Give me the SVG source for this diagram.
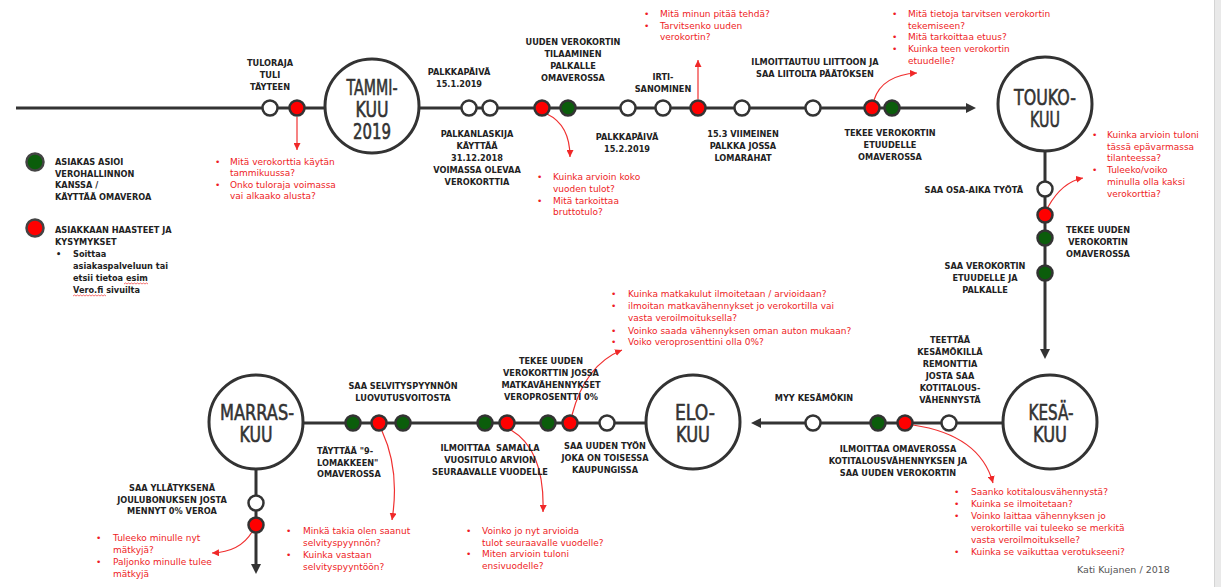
<svg xmlns="http://www.w3.org/2000/svg" width="1221" height="587" viewBox="0 0 1221 587">
<defs>
<marker id="ar" viewBox="0 0 10 10" refX="10" refY="5" markerUnits="userSpaceOnUse" markerWidth="7" markerHeight="7" orient="auto">
<path d="M0,0 L10,5 L0,10 z" fill="#f02828"/>
</marker>
</defs>
<style>
.ln{stroke:#333;stroke-width:3;fill:none}
.big{fill:#fff;stroke:#333;stroke-width:3}
.n{stroke:#333;stroke-width:2.5}
.w{fill:#fff}
.g{fill:#0b5d0b}
.r{fill:#ff0000}
.ah{fill:#333}
.lbl{font-family:"DejaVu Sans",sans-serif;font-weight:bold;font-size:8.2px;fill:#222;text-anchor:middle}
.lg{font-family:"DejaVu Sans",sans-serif;font-weight:bold;font-size:8.2px;fill:#222}
.q{font-family:"DejaVu Sans",sans-serif;font-size:9px;fill:#ee1c25}
.mo{font-family:"DejaVu Sans",sans-serif;font-size:21px;fill:#333;stroke:#333;stroke-width:0.6;text-anchor:middle}
.ra{stroke:#f03030;stroke-width:1.2;fill:none;marker-end:url(#ar)}
.sq{stroke:#e33;stroke-width:0.7;fill:none}
</style>
<rect width="1221" height="587" fill="#fff"/>
<rect x="1214" y="0" width="7" height="587" fill="#e9e9e9"/>
<line x1="1214.5" y1="0" x2="1214.5" y2="587" stroke="#d4d4d4"/>

<g id="connectors">
<line class="ln" x1="16" y1="108" x2="326" y2="108"/>
<line class="ln" x1="419" y1="108" x2="968" y2="108"/>
<polygon class="ah" points="976,108 966,103 966,113"/>
<line class="ln" x1="1045" y1="151" x2="1045" y2="350"/>
<polygon class="ah" points="1045,359 1040,349 1050,349"/>
<line class="ln" x1="1004" y1="423" x2="760" y2="423"/>
<polygon class="ah" points="751,423 761,418 761,428"/>
<line class="ln" x1="302" y1="423" x2="646" y2="423"/>
<line class="ln" x1="256" y1="469" x2="256" y2="565"/>
<polygon class="ah" points="256,574 251,564 261,564"/>
<path class="ra" d="M297,117 L297,150"/>
<path class="ra" d="M547,114 Q570,125 570,157"/>
<path class="ra" d="M698,99 L698,60"/>
<path class="ra" d="M874,100 Q882,75 917,73"/>
<path class="ra" d="M1048,207 Q1062,182 1083,178"/>
<path class="ra" d="M913,425 Q980,435 993,483"/>
<path class="ra" d="M572,415 Q585,365 622,350"/>
<path class="ra" d="M511,430 Q545,450 543,512"/>
<path class="ra" d="M382,431 Q400,470 392,520"/>
<path class="ra" d="M252,532 Q240,552 212,553"/>
</g>

<g id="month-tammikuu">
<circle class="big" cx="372" cy="106" r="47"/>
<text class="mo"><tspan x="372" y="95" textLength="51" lengthAdjust="spacingAndGlyphs">TAMMI-</tspan><tspan x="372" y="117" textLength="33" lengthAdjust="spacingAndGlyphs">KUU</tspan><tspan x="372" y="139" textLength="38" lengthAdjust="spacingAndGlyphs">2019</tspan></text>
</g>
<g id="month-toukokuu">
<circle class="big" cx="1045" cy="104" r="47"/>
<text class="mo"><tspan x="1045" y="105" textLength="62" lengthAdjust="spacingAndGlyphs">TOUKO-</tspan><tspan x="1045" y="127" textLength="30" lengthAdjust="spacingAndGlyphs">KUU</tspan></text>
</g>
<g id="month-kesakuu">
<circle class="big" cx="1050" cy="422" r="47"/>
<text class="mo"><tspan x="1051" y="420" textLength="45" lengthAdjust="spacingAndGlyphs">KESÄ-</tspan><tspan x="1050" y="442" textLength="34" lengthAdjust="spacingAndGlyphs">KUU</tspan></text>
</g>
<g id="month-elokuu">
<circle class="big" cx="693" cy="422" r="47"/>
<text class="mo"><tspan x="695" y="420" textLength="40" lengthAdjust="spacingAndGlyphs">ELO-</tspan><tspan x="693" y="442" textLength="34" lengthAdjust="spacingAndGlyphs">KUU</tspan></text>
</g>
<g id="month-marraskuu">
<circle class="big" cx="256" cy="422" r="47"/>
<text class="mo"><tspan x="257" y="420" textLength="74" lengthAdjust="spacingAndGlyphs">MARRAS-</tspan><tspan x="256" y="442" textLength="33" lengthAdjust="spacingAndGlyphs">KUU</tspan></text>
</g>

<g id="ev-tuloraja">
<circle class="n w" cx="270" cy="108" r="7.5"/>
<text class="lbl"><tspan x="270" y="66">TULORAJA</tspan><tspan x="270" y="78">TULI</tspan><tspan x="270" y="90">TÄYTEEN</tspan></text>
</g>
<g id="q-tammikuu">
<circle class="n r" cx="297" cy="108" r="7.5"/>
<text class="q"><tspan x="215" y="165">•</tspan><tspan x="230" y="165">Mitä verokorttia käytän</tspan><tspan x="230" y="176">tammikuussa?</tspan><tspan x="215" y="188">•</tspan><tspan x="230" y="188">Onko tuloraja voimassa</tspan><tspan x="230" y="199">vai alkaako alusta?</tspan></text>
</g>
<g id="ev-palkkapaiva1">
<circle class="n w" cx="469" cy="108" r="7.5"/>
<text class="lbl"><tspan x="459" y="75">PALKKAPÄIVÄ</tspan><tspan x="459" y="87">15.1.2019</tspan></text>
</g>
<g id="ev-palkanlaskija">
<circle class="n w" cx="490" cy="108" r="7.5"/>
<text class="lbl"><tspan x="477" y="137">PALKANLASKIJA</tspan><tspan x="477" y="149">KÄYTTÄÄ</tspan><tspan x="477" y="161">31.12.2018</tspan><tspan x="477" y="173">VOIMASSA OLEVAA</tspan><tspan x="477" y="185">VEROKORTTIA</tspan></text>
</g>
<g id="ev-tilaaminen">
<circle class="n r" cx="542" cy="108" r="7.5"/>
<circle class="n g" cx="568" cy="108" r="7.5"/>
<text class="lbl"><tspan x="573" y="45">UUDEN VEROKORTIN</tspan><tspan x="573" y="57">TILAAMINEN</tspan><tspan x="573" y="69">PALKALLE</tspan><tspan x="573" y="81">OMAVEROSSA</tspan></text>
<text class="q"><tspan x="537" y="180">•</tspan><tspan x="553" y="180">Kuinka arvioin koko</tspan><tspan x="553" y="192">vuoden tulot?</tspan><tspan x="537" y="204">•</tspan><tspan x="553" y="204">Mitä tarkoittaa</tspan><tspan x="553" y="215">bruttotulo?</tspan></text>
</g>
<g id="ev-palkkapaiva2">
<circle class="n w" cx="628" cy="108" r="7.5"/>
<text class="lbl"><tspan x="627" y="140">PALKKAPÄIVÄ</tspan><tspan x="627" y="152">15.2.2019</tspan></text>
</g>
<g id="ev-irtisanominen">
<circle class="n w" cx="663" cy="108" r="7.5"/>
<text class="lbl"><tspan x="663" y="80">IRTI-</tspan><tspan x="663" y="92">SANOMINEN</tspan></text>
</g>
<g id="q-irtisanominen">
<circle class="n r" cx="698" cy="108" r="7.5"/>
<text class="q"><tspan x="644" y="17">•</tspan><tspan x="660" y="17">Mitä minun pitää tehdä?</tspan><tspan x="644" y="29">•</tspan><tspan x="660" y="29">Tarvitsenko uuden</tspan><tspan x="660" y="40">verokortin?</tspan></text>
</g>
<g id="ev-viimeinen-palkka">
<circle class="n w" cx="742" cy="108" r="7.5"/>
<text class="lbl"><tspan x="743" y="137">15.3 VIIMEINEN</tspan><tspan x="743" y="149">PALKKA JOSSA</tspan><tspan x="743" y="161">LOMARAHAT</tspan></text>
</g>
<g id="ev-liitto">
<circle class="n w" cx="813" cy="108" r="7.5"/>
<text class="lbl"><tspan x="815" y="65">ILMOITTAUTUU LIITTOON JA</tspan><tspan x="815" y="77">SAA LIITOLTA PÄÄTÖKSEN</tspan></text>
</g>
<g id="ev-etuus">
<circle class="n r" cx="872" cy="108" r="7.5"/>
<circle class="n g" cx="892" cy="108" r="7.5"/>
<text class="lbl"><tspan x="890" y="136">TEKEE VEROKORTIN</tspan><tspan x="890" y="148">ETUUDELLE</tspan><tspan x="890" y="160">OMAVEROSSA</tspan></text>
<text class="q"><tspan x="892" y="17">•</tspan><tspan x="908" y="17">Mitä tietoja tarvitsen verokortin</tspan><tspan x="908" y="28.5">tekemiseen?</tspan><tspan x="892" y="40">•</tspan><tspan x="908" y="40">Mitä tarkoittaa etuus?</tspan><tspan x="892" y="52">•</tspan><tspan x="908" y="52">Kuinka teen verokortin</tspan><tspan x="908" y="63.5">etuudelle?</tspan></text>
</g>
<g id="ev-osa-aika">
<circle class="n w" cx="1045" cy="189" r="7.5"/>
<text class="lbl" style="text-anchor:end"><tspan x="1023" y="193">SAA OSA-AIKA TYÖTÄ</tspan></text>
</g>
<g id="q-osa-aika">
<circle class="n r" cx="1045" cy="215" r="7.5"/>
<text class="q"><tspan x="1092" y="138">•</tspan><tspan x="1107" y="138">Kuinka arvioin tuloni</tspan><tspan x="1107" y="150">tässä epävarmassa</tspan><tspan x="1107" y="161">tilanteessa?</tspan><tspan x="1092" y="173">•</tspan><tspan x="1107" y="173">Tuleeko/voiko</tspan><tspan x="1107" y="185">minulla olla kaksi</tspan><tspan x="1107" y="197">verokorttia?</tspan></text>
</g>
<g id="ev-uusi-verokortti">
<circle class="n g" cx="1045" cy="238" r="7.5"/>
<text class="lbl"><tspan x="1098" y="233">TEKEE UUDEN</tspan><tspan x="1098" y="245">VEROKORTIN</tspan><tspan x="1098" y="257">OMAVEROSSA</tspan></text>
</g>
<g id="ev-saa-verokortin">
<circle class="n g" cx="1045" cy="273" r="7.5"/>
<text class="lbl"><tspan x="985" y="269">SAA VEROKORTIN</tspan><tspan x="985" y="281">ETUUDELLE JA</tspan><tspan x="985" y="293">PALKALLE</tspan></text>
</g>
<g id="ev-remontti">
<circle class="n w" cx="949" cy="423" r="7.5"/>
<text class="lbl"><tspan x="950" y="343">TEETTÄÄ</tspan><tspan x="950" y="355">KESÄMÖKILLÄ</tspan><tspan x="950" y="367">REMONTTIA</tspan><tspan x="950" y="379">JOSTA SAA</tspan><tspan x="950" y="391">KOTITALOUS-</tspan><tspan x="950" y="403">VÄHENNYSTÄ</tspan></text>
</g>
<g id="ev-kotitalous">
<circle class="n g" cx="878" cy="423" r="7.5"/>
<circle class="n r" cx="905" cy="423" r="7.5"/>
<text class="lbl"><tspan x="898" y="452">ILMOITTAA OMAVEROSSA</tspan><tspan x="898" y="464">KOTITALOUSVÄHENNYKSEN JA</tspan><tspan x="898" y="476">SAA UUDEN VEROKORTIN</tspan></text>
<text class="q"><tspan x="954" y="495">•</tspan><tspan x="971" y="495">Saanko kotitalousvähennystä?</tspan><tspan x="954" y="507">•</tspan><tspan x="971" y="507">Kuinka se ilmoitetaan?</tspan><tspan x="954" y="519">•</tspan><tspan x="971" y="519">Voinko laittaa vähennyksen jo</tspan><tspan x="971" y="531">verokortille vai tuleeko se merkitä</tspan><tspan x="971" y="543">vasta veroilmoitukselle?</tspan><tspan x="954" y="555">•</tspan><tspan x="971" y="555">Kuinka se vaikuttaa verotukseeni?</tspan></text>
</g>
<g id="ev-myy-kesamokin">
<circle class="n w" cx="813" cy="423" r="7.5"/>
<text class="lbl"><tspan x="814" y="401">MYY KESÄMÖKIN</tspan></text>
</g>
<g id="ev-uusi-tyo">
<circle class="n w" cx="607" cy="423" r="7.5"/>
<text class="lbl"><tspan x="605" y="449">SAA UUDEN TYÖN</tspan><tspan x="605" y="461">JOKA ON TOISESSA</tspan><tspan x="605" y="473">KAUPUNGISSA</tspan></text>
</g>
<g id="ev-matkavahennys">
<circle class="n g" cx="548" cy="423" r="7.5"/>
<circle class="n r" cx="570" cy="423" r="7.5"/>
<text class="lbl"><tspan x="551" y="364">TEKEE UUDEN</tspan><tspan x="551" y="376">VEROKORTTIN JOSSA</tspan><tspan x="551" y="388">MATKAVÄHENNYKSET</tspan><tspan x="551" y="400">VEROPROSENTTI 0%</tspan></text>
<text class="q"><tspan x="611" y="297">•</tspan><tspan x="628" y="297">Kuinka matkakulut ilmoitetaan / arvioidaan?</tspan><tspan x="611" y="309">•</tspan><tspan x="628" y="309">ilmoitan matkavähennykset jo verokortilla vai</tspan><tspan x="628" y="321">vasta veroilmoituksella?</tspan><tspan x="611" y="334">•</tspan><tspan x="628" y="334">Voinko saada vähennyksen oman auton mukaan?</tspan><tspan x="611" y="345">•</tspan><tspan x="628" y="345">Voiko veroprosenttini olla 0%?</tspan></text>
</g>
<g id="ev-vuositulo">
<circle class="n g" cx="485" cy="423" r="7.5"/>
<circle class="n r" cx="507" cy="423" r="7.5"/>
<text class="lbl"><tspan x="490" y="451">ILMOITTAA&#160; SAMALLA</tspan><tspan x="490" y="463">VUOSITULO ARVION</tspan><tspan x="490" y="475">SEURAAVALLE VUODELLE</tspan></text>
<text class="q"><tspan x="466" y="534">•</tspan><tspan x="482" y="534">Voinko jo nyt arvioida</tspan><tspan x="482" y="546">tulot seuraavalle vuodelle?</tspan><tspan x="466" y="557">•</tspan><tspan x="482" y="557">Miten arvioin tuloni</tspan><tspan x="482" y="569">ensivuodelle?</tspan></text>
</g>
<g id="ev-selvityspyynto">
<circle class="n g" cx="353" cy="423" r="7.5"/>
<circle class="n r" cx="379" cy="423" r="7.5"/>
<circle class="n g" cx="403" cy="423" r="7.5"/>
<text class="lbl"><tspan x="403" y="389">SAA SELVITYSPYYNNÖN</tspan><tspan x="403" y="401">LUOVUTUSVOITOSTA</tspan></text>
<text class="lbl" style="text-anchor:start"><tspan x="317" y="454">TÄYTTÄÄ "9-</tspan><tspan x="317" y="466">LOMAKKEEN"</tspan><tspan x="317" y="477">OMAVEROSSA</tspan></text>
<text class="q"><tspan x="286" y="534">•</tspan><tspan x="303" y="534">Minkä takia olen saanut</tspan><tspan x="303" y="546">selvityspyynnön?</tspan><tspan x="286" y="558">•</tspan><tspan x="303" y="558">Kuinka vastaan</tspan><tspan x="303" y="570">selvityspyyntöön?</tspan></text>
</g>
<g id="ev-joulubonus">
<circle class="n w" cx="256" cy="503" r="7.5"/>
<circle class="n r" cx="256" cy="525" r="7.5"/>
<text class="lbl"><tspan x="172" y="491">SAA YLLÄTYKSENÄ</tspan><tspan x="172" y="503">JOULUBONUKSEN JOSTA</tspan><tspan x="172" y="514">MENNYT 0% VEROA</tspan></text>
<text class="q"><tspan x="96" y="541">•</tspan><tspan x="113" y="541">Tuleeko minulle nyt</tspan><tspan x="113" y="553">mätkyjä?</tspan><tspan x="96" y="565">•</tspan><tspan x="113" y="565">Paljonko minulle tulee</tspan><tspan x="113" y="577">mätkyjä</tspan></text>
</g>

<g id="legend">
<circle cx="35" cy="162" r="8.5" fill="#0b5d0b" stroke="#444" stroke-width="2.5"/>
<text class="lg"><tspan x="55" y="165">ASIAKAS ASIOI</tspan><tspan x="55" y="177">VEROHALLINNON</tspan><tspan x="55" y="188">KANSSA /</tspan><tspan x="55" y="200">KÄYTTÄÄ OMAVEROA</tspan></text>
<circle cx="35" cy="228" r="8.5" fill="#ff0000" stroke="#444" stroke-width="2.5"/>
<text class="lg"><tspan x="55" y="233">ASIAKKAAN HAASTEET JA</tspan><tspan x="55" y="245">KYSYMYKSET</tspan><tspan x="56" y="257">•</tspan><tspan x="73" y="257">Soittaa</tspan><tspan x="73" y="269">asiakaspalveluun tai</tspan><tspan x="73" y="281">etsii tietoa esim</tspan><tspan x="73" y="293">Vero.fi sivuilta</tspan></text>
<path class="sq" d="M124,284 l1.5,-1 l1.5,1 l1.5,-1 l1.5,1 l1.5,-1 l1.5,1 l1.5,-1 l1.5,1 l1.5,-1 l1.5,1 l1.5,-1 l1.5,1 l1.5,-1 l1.5,1 l1.5,-1 l1.5,1"/>
<path class="sq" d="M73,296 l1.5,-1 l1.5,1 l1.5,-1 l1.5,1 l1.5,-1 l1.5,1 l1.5,-1 l1.5,1 l1.5,-1 l1.5,1 l1.5,-1 l1.5,1 l1.5,-1 l1.5,1 l1.5,-1 l1.5,1 l1.5,-1 l1.5,1 l1.5,-1 l1.5,1 l1.5,-1 l1.5,1"/>
</g>

<text x="1077" y="573" style="font-family:'DejaVu Sans',sans-serif;font-size:9.5px;fill:#555">Kati Kujanen / 2018</text>
</svg>
